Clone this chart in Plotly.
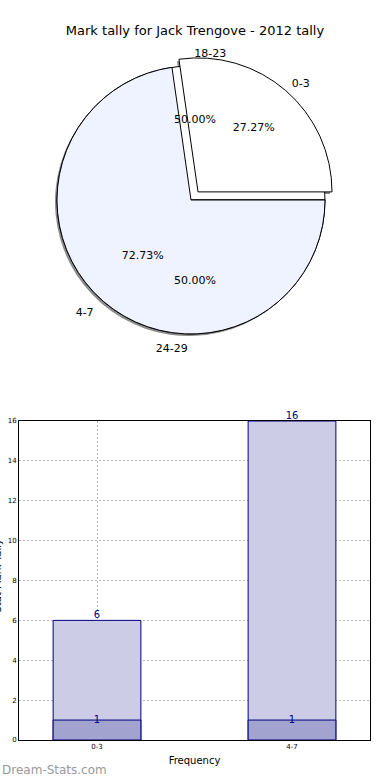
import plotly.graph_objects as go

# ---- data ----
title_text = "Mark tally for Jack Trengove - 2012 tally"
pie_a_labels = ["0-3", "4-7"]
pie_a_values = [6, 16]
pie_b_labels = ["18-23", "24-29"]
pie_b_values = [1, 1]

bar_categories = ["0-3", "4-7"]
bar_totals = [6, 16]
bar_lower = [1, 1]
y_ticks = [0, 2, 4, 6, 8, 10, 12, 14, 16]

W, H = 390, 780
FONT = "DejaVu Sans"

def px_dom(cx, cy, half):
    return dict(x=[(cx - half) / W, (cx + half) / W],
                y=[1 - (cy + half) / H, 1 - (cy - half) / H])

def start_rotation(values):
    # first slice starts at 3 o'clock and runs counter-clockwise (matplotlib style)
    return 90 - 360.0 * values[0] / sum(values)

R = 134
PULL = 0.08
CX, CY = 191, 200
dom_a = px_dom(CX, CY, R * (1 + PULL))
dom_a_text = px_dom(CX, CY, R * (1 + PULL) * 1.1)
dom_a_lab = px_dom(CX - 2, CY + 2, R * (1 + PULL) * 1.05)
dom_b = px_dom(CX, CY, R)
dom_b_text = px_dom(CX + 4, CY, R * 1.2)
dom_b_lab = px_dom(CX, CY + 1, R * 1.05)
dom_shadow = px_dom(CX - 2, CY + 2, R * (1 + PULL))
rot_a = start_rotation(pie_a_values)
rot_b = start_rotation(pie_b_values)

fig = go.Figure()

common = dict(sort=False, direction="counterclockwise",
              hoverinfo="skip", showlegend=False)
clear = dict(colors=["rgba(0,0,0,0)"] * 2, line=dict(width=0))
tfont = dict(family=FONT, size=11, color="black")

# shadow of pie A
fig.add_trace(go.Pie(labels=pie_a_labels, values=pie_a_values, domain=dom_shadow,
                     pull=[PULL, 0], textinfo="none", rotation=rot_a,
                     marker=dict(colors=["#8c8c8c", "#8c8c8c"], line=dict(width=0)),
                     **common))
# pie B (underneath)
fig.add_trace(go.Pie(labels=pie_b_labels, values=pie_b_values, domain=dom_b,
                     textinfo="none", rotation=rot_b,
                     marker=dict(colors=["#ffffff", "#ffffff"], line=dict(color="black", width=1)),
                     **common))
# pie A
fig.add_trace(go.Pie(labels=pie_a_labels, values=pie_a_values, domain=dom_a,
                     pull=[PULL, 0], textinfo="none", rotation=rot_a,
                     marker=dict(colors=["#ffffff", "#eef3ff"], line=dict(color="black", width=1)),
                     **common))
# pie A percents
fig.add_trace(go.Pie(labels=pie_a_labels, values=pie_a_values, domain=dom_a_text,
                     pull=[PULL, 0], textposition="inside", insidetextorientation="horizontal",
                     texttemplate="%{percent:.2%}", rotation=rot_a,
                     textfont=tfont, marker=clear, **common))
# pie A labels
fig.add_trace(go.Pie(labels=pie_a_labels, values=pie_a_values, domain=dom_a_lab,
                     pull=[PULL, 0], textposition="outside", texttemplate="%{label}",
                     rotation=rot_a, textfont=tfont, marker=clear, **common))
# pie B percents
fig.add_trace(go.Pie(labels=pie_b_labels, values=pie_b_values, domain=dom_b_text,
                     textposition="inside", insidetextorientation="horizontal",
                     texttemplate="%{percent:.2%}", rotation=rot_b,
                     textfont=tfont, marker=clear, **common))
# pie B labels
fig.add_trace(go.Pie(labels=pie_b_labels, values=pie_b_values, domain=dom_b_lab,
                     textposition="outside", texttemplate="%{label}", rotation=rot_b,
                     textfont=tfont, marker=clear, **common))

# bars
fig.add_trace(go.Bar(x=bar_categories, y=bar_totals, width=0.45,
                     marker=dict(color="#ccccE6", line=dict(color="#000080", width=1)),
                     hoverinfo="skip", showlegend=False))
fig.add_trace(go.Bar(x=bar_categories, y=bar_lower, width=0.45,
                     marker=dict(color="#a3a3d0", line=dict(color="#000080", width=1)),
                     hoverinfo="skip", showlegend=False))
fig.add_trace(go.Scatter(x=bar_categories, y=bar_totals, mode="text",
                         text=[str(v) for v in bar_totals], textposition="top center",
                         textfont=dict(family=FONT, size=10, color="#000080"),
                         hoverinfo="skip", showlegend=False, cliponaxis=False))
fig.add_trace(go.Scatter(x=bar_categories, y=bar_lower, mode="text",
                         text=[str(v) for v in bar_lower], textposition="middle center",
                         textfont=dict(family=FONT, size=10, color="#000080"),
                         hoverinfo="skip", showlegend=False, cliponaxis=False))

grid = dict(showgrid=True, gridcolor="#b4b4b4", griddash="2px,2px", gridwidth=1)

fig.update_layout(
    width=W, height=H,
    margin=dict(l=0, r=0, t=0, b=0),
    paper_bgcolor="white", plot_bgcolor="white",
    barmode="overlay",
    font=dict(family=FONT, color="black"),
    title=dict(text=title_text, x=0.5, xanchor="center", y=1 - 30 / H, yanchor="middle",
               font=dict(family=FONT, size=13, color="black")),
    xaxis=dict(domain=[19 / W, 370 / W], type="category", range=[-0.4, 1.4],
               showline=True, mirror=True, linecolor="black", linewidth=1,
               ticks="", tickfont=dict(size=7, family=FONT), automargin=False,
               title=dict(text="Frequency", font=dict(size=10, family=FONT), standoff=6),
               fixedrange=True, **grid),
    yaxis=dict(domain=[1 - 740 / H, 1 - 421 / H], range=[0, 16], tickvals=y_ticks,
               showline=True, mirror=True, linecolor="black", linewidth=1,
               ticks="", tickfont=dict(size=7, family=FONT), automargin=False,
               zeroline=False, fixedrange=True, **grid),
    annotations=[
        dict(text="Stat Mark Tally", textangle=-90, xref="paper", yref="paper",
             x=4 / W, y=1 - 576 / H, xanchor="right", yanchor="middle", showarrow=False,
             font=dict(size=10, family=FONT, color="black")),
        dict(text="Dream-Stats.com", xref="paper", yref="paper",
             x=0, y=1 - 770 / H, xanchor="left", yanchor="middle", showarrow=False,
             font=dict(size=12, family=FONT, color="#999999")),
    ],
)

fig.write_html("out.html", config={"displayModeBar": False},
               post_script="document.body.style.margin='0';")
